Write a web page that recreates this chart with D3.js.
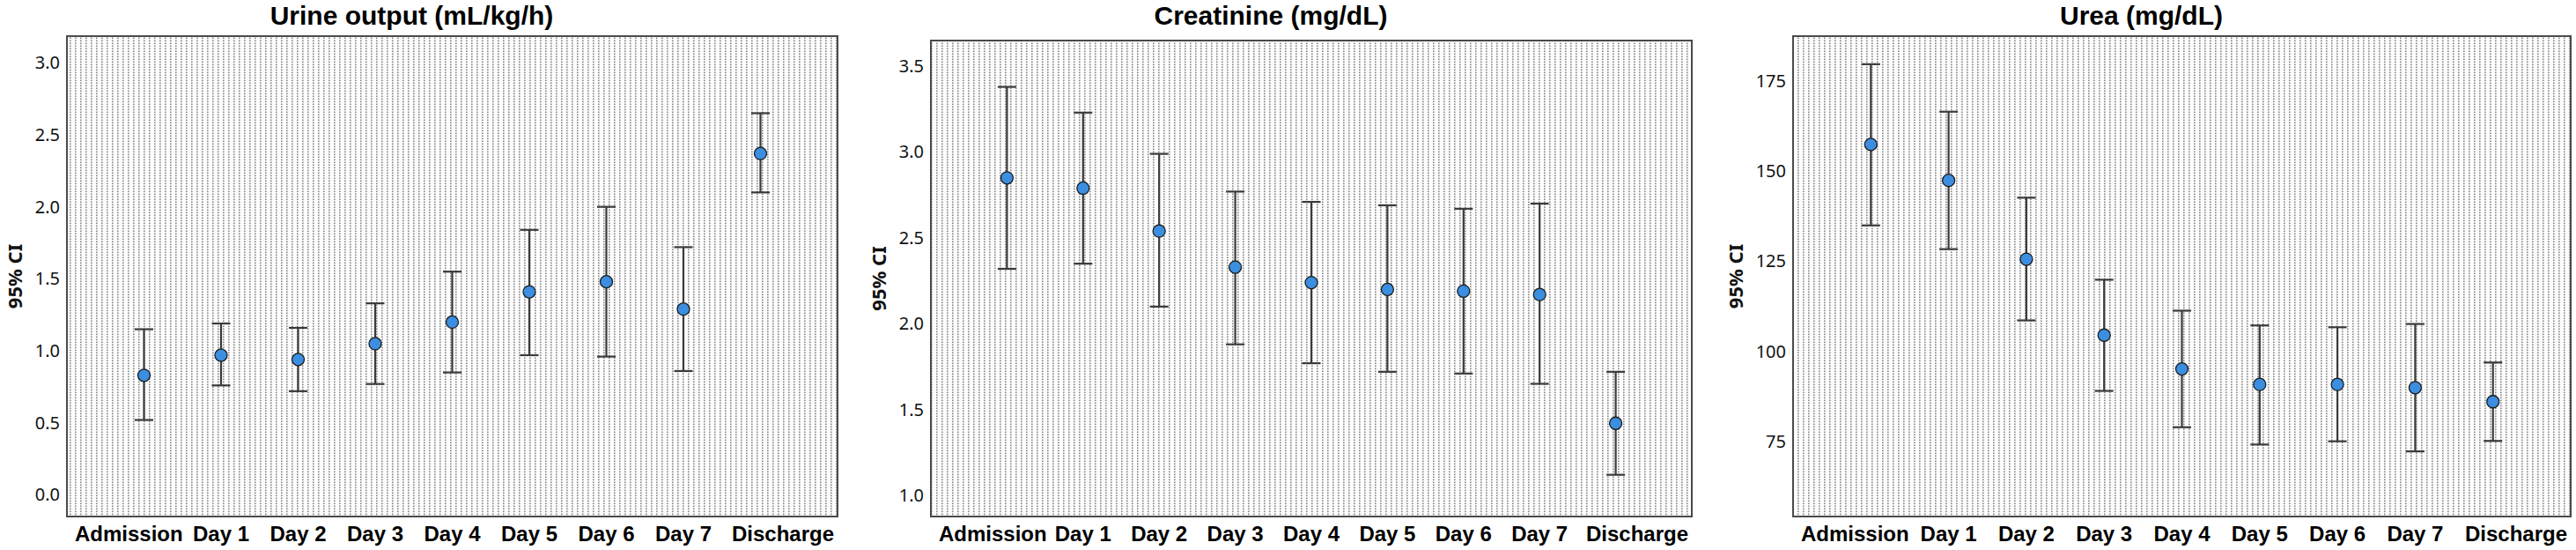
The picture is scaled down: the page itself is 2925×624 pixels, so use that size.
<!DOCTYPE html>
<html>
<head>
<meta charset="utf-8">
<script src="https://cdn.jsdelivr.net/npm/d3@7"></script>
<style>
  body { margin: 0; background: #fff; }
  svg { display: block; }
</style>
</head>
<body>
<svg id="chart" width="2925" height="624"></svg>
<script>
// categories (shared by all three panels)
const categories = ['Admission', 'Day 1', 'Day 2', 'Day 3', 'Day 4', 'Day 5', 'Day 6', 'Day 7', 'Discharge'];

// Urine output (mL/kg/h)
const urineMean  = [0.83, 0.97, 0.94, 1.05, 1.20, 1.41, 1.48, 1.29, 2.37];
const urineLower = [0.52, 0.76, 0.72, 0.77, 0.85, 0.97, 0.96, 0.86, 2.10];
const urineUpper = [1.15, 1.19, 1.16, 1.33, 1.55, 1.84, 2.00, 1.72, 2.65];
const urineTicks = [0.0, 0.5, 1.0, 1.5, 2.0, 2.5, 3.0];
const urineRange = [-0.15, 3.185];

// Creatinine (mg/dL)
const creatMean  = [2.85, 2.79, 2.54, 2.33, 2.24, 2.20, 2.19, 2.17, 1.42];
const creatLower = [2.32, 2.35, 2.10, 1.88, 1.77, 1.72, 1.71, 1.65, 1.12];
const creatUpper = [3.38, 3.23, 2.99, 2.77, 2.71, 2.69, 2.67, 2.70, 1.72];
const creatTicks = [1.0, 1.5, 2.0, 2.5, 3.0, 3.5];
const creatRange = [0.877, 3.65];

// Urea (mg/dL)
const ureaMean  = [157.5, 147.5, 125.6, 104.5, 95.1, 90.8, 90.8, 89.9, 86.0];
const ureaLower = [135.0, 128.4, 108.6, 89.0, 78.9, 74.1, 75.0, 72.2, 75.1];
const ureaUpper = [179.8, 166.6, 142.7, 119.9, 111.3, 107.2, 106.7, 107.6, 96.9];
const ureaTicks = [75, 100, 125, 150, 175];
const ureaRange = [54.1, 187.6];

const titles = ['Urine output (mL/kg/h)', 'Creatinine (mg/dL)', 'Urea (mg/dL)'];
const yLabel = '95% CI';

const panels = [
  {title: titles[0], mean: urineMean, lower: urineLower, upper: urineUpper, ticks: urineTicks, range: urineRange, fmt: d3.format('.1f'),
   left: 76, right: 951, top: 41, bottom: 586},
  {title: titles[1], mean: creatMean, lower: creatLower, upper: creatUpper, ticks: creatTicks, range: creatRange, fmt: d3.format('.1f'),
   left: 1057, right: 1921, top: 46, bottom: 586},
  {title: titles[2], mean: ureaMean, lower: ureaLower, upper: ureaUpper, ticks: ureaTicks, range: ureaRange, fmt: d3.format('d'),
   left: 2036, right: 2919, top: 41, bottom: 586}
];

const svg = d3.select('#chart');

// dotted background fill
const pattern = svg.append('defs').append('pattern')
  .attr('id', 'dots')
  .attr('patternUnits', 'userSpaceOnUse')
  .attr('width', 6)
  .attr('height', 3);
pattern.append('rect').attr('width', 6).attr('height', 3).attr('fill', '#fdfdfd');
pattern.append('rect').attr('x', 1).attr('y', 0.5).attr('width', 1.6).attr('height', 1.6).attr('fill', '#858585');

const drawPanel = (p) => {
  const x = d3.scalePoint().domain(categories).range([p.left, p.right]).padding(1);
  const y = d3.scaleLinear().domain(p.range).range([p.bottom, p.top]);

  const g = svg.append('g');

  // plot frame
  g.append('rect')
    .attr('x', p.left)
    .attr('y', p.top)
    .attr('width', p.right - p.left)
    .attr('height', p.bottom - p.top)
    .attr('fill', 'url(#dots)')
    .attr('stroke', '#4a4a4a')
    .attr('stroke-width', 2);

  // title
  g.append('text')
    .attr('x', (p.left + p.right) / 2 - 46)
    .attr('y', 28)
    .attr('text-anchor', 'middle')
    .style('font-family', '"Liberation Sans", Arial, sans-serif')
    .style('font-weight', 'bold')
    .style('font-size', '30px')
    .attr('fill', '#000')
    .text(p.title);

  // Y axis
  const yAxis = g.append('g')
    .attr('transform', `translate(${p.left},0)`)
    .call(d3.axisLeft(y).tickValues(p.ticks).tickFormat(p.fmt).tickSize(0).tickPadding(8));
  yAxis.select('.domain').remove();
  yAxis.selectAll('text')
    .style('font-family', '"Noto Sans", sans-serif')
    .style('font-size', '20px')
    .attr('fill', '#111');

  // widest tick label, to place the axis title left of it
  let tickWidth = 0;
  yAxis.selectAll('text').each(function () {
    tickWidth = Math.max(tickWidth, this.getComputedTextLength());
  });
  const labelX = p.left - 8 - tickWidth - 22;

  // Y axis label
  g.append('text')
    .attr('transform', `translate(${labelX},${(p.top + p.bottom) / 2}) rotate(-90)`)
    .attr('text-anchor', 'middle')
    .attr('dy', '0.35em')
    .style('font-family', '"Noto Sans", sans-serif')
    .style('font-weight', 'bold')
    .style('font-size', '22px')
    .attr('fill', '#111')
    .text(yLabel);

  // X labels
  const last = categories.length - 1;
  g.selectAll('.xlabel')
    .data(categories)
    .join('text')
    .attr('class', 'xlabel')
    .attr('x', (d, i) => i === 0 ? p.left + 9 : i === last ? p.right - 4 : x(d))
    .attr('y', 614)
    .attr('text-anchor', (d, i) => i === 0 ? 'start' : i === last ? 'end' : 'middle')
    .style('font-family', '"Liberation Sans", Arial, sans-serif')
    .style('font-weight', 'bold')
    .style('font-size', '24px')
    .attr('fill', '#000')
    .text(d => d);

  const rows = categories.map((c, i) => ({c, mean: p.mean[i], lo: p.lower[i], hi: p.upper[i]}));

  // error bars
  const bars = g.selectAll('.bar').data(rows).join('g').attr('class', 'bar');
  bars.append('line')
    .attr('x1', d => x(d.c)).attr('x2', d => x(d.c))
    .attr('y1', d => y(d.lo)).attr('y2', d => y(d.hi))
    .attr('stroke', '#3a3a3a').attr('stroke-width', 2.2);
  bars.append('line')
    .attr('x1', d => x(d.c) - 10.5).attr('x2', d => x(d.c) + 10.5)
    .attr('y1', d => y(d.hi)).attr('y2', d => y(d.hi))
    .attr('stroke', '#3a3a3a').attr('stroke-width', 2.2);
  bars.append('line')
    .attr('x1', d => x(d.c) - 10.5).attr('x2', d => x(d.c) + 10.5)
    .attr('y1', d => y(d.lo)).attr('y2', d => y(d.lo))
    .attr('stroke', '#3a3a3a').attr('stroke-width', 2.2);

  // means
  g.selectAll('.mean')
    .data(rows)
    .join('circle')
    .attr('class', 'mean')
    .attr('cx', d => x(d.c))
    .attr('cy', d => y(d.mean))
    .attr('r', 7)
    .attr('fill', '#3b8ee0')
    .attr('stroke', '#1c1c1c')
    .attr('stroke-width', 1.3);
};

panels.forEach(drawPanel);
</script>
</body>
</html>
